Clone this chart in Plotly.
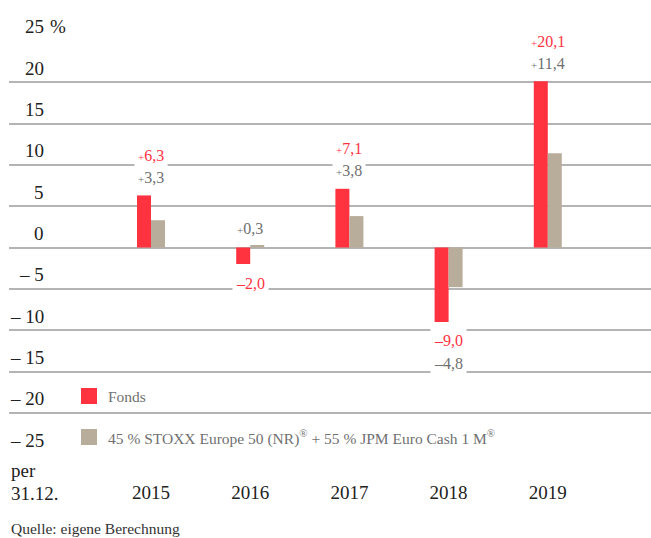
import plotly.graph_objects as go

# ---------------- data ----------------
years = ["2015", "2016", "2017", "2018", "2019"]
fonds = [6.3, -2.0, 7.1, -9.0, 20.1]
bench = [3.3, 0.3, 3.8, -4.8, 11.4]
y_ticks = [25, 20, 15, 10, 5, 0, -5, -10, -15, -20, -25]
y_tick_labels = ["25", "20", "15", "10", "5", "0", "– 5", "– 10", "– 15", "– 20", "– 25"]
y_unit = "%"
series_names = ["Fonds", "45 % STOXX Europe 50 (NR)<sup>®</sup> + 55 % JPM Euro Cash 1 M<sup>®</sup>"]
source_text = "Quelle: eigene Berechnung"
x_caption = ["per", "31.12."]

# ---------------- style ----------------
RED = "#FF333F"
BEIGE = "#B8AD9B"
GRID = "#B4B4B4"
DARK = "#222222"
GREY_TXT = "#707070"
FONT = "Liberation Serif"

W, H = 651, 538
L, R, T, B = 9, 0, 40, 83
PW, PH = W - L - R, H - T - B

def px_x(p):
    return (p - L) / PW

def px_y(p):
    return (H - B - p) / PH

first_px, step_px = 151, 99.2
x0 = -(first_px - L) / step_px
x1 = x0 + PW / step_px
bw = 14 / step_px

fig = go.Figure()
fig.add_bar(x=list(range(len(years))), y=fonds, width=bw, offset=-bw,
            marker=dict(color=RED, line=dict(width=0)), name=series_names[0], showlegend=False)
fig.add_bar(x=list(range(len(years))), y=bench, width=bw, offset=0,
            marker=dict(color=BEIGE, line=dict(width=0)), name=series_names[1], showlegend=False)

def fmt(v):
    s = f"{abs(v):.1f}".replace(".", ",")
    if v >= 0:
        return "<span style='font-size:11px'>+</span>" + s
    return "–" + s

annotations = []
for i, (f, b) in enumerate(zip(fonds, bench)):
    items = []
    if f >= 0 and b >= 0:
        top = max(f, b)
        items = [(b, GREY_TXT, top, 18), (f, RED, top, 40)]
    elif f < 0 and b < 0:
        bot = min(f, b)
        items = [(f, RED, bot, -19), (b, GREY_TXT, bot, -42)]
    else:
        for v, c in ((f, RED), (b, GREY_TXT)):
            items.append((v, c, v, 17 if v >= 0 else -19))
    for v, c, anchor, sh in items:
        annotations.append(dict(x=i, y=anchor, xref="x", yref="y", yshift=sh,
                                text=fmt(v), showarrow=False, bgcolor="white",
                                borderpad=3, font=dict(family=FONT, size=16, color=c),
                                xanchor="center", yanchor="middle"))

# y tick labels (sitting above their gridlines)
for v, lab in zip(y_ticks, y_tick_labels):
    annotations.append(dict(x=px_x(46), y=v, xref="paper", yref="y", yshift=14,
                            text=lab, showarrow=False, xanchor="right", yanchor="middle",
                            font=dict(family=FONT, size=19, color=DARK)))
annotations.append(dict(x=px_x(48), y=y_ticks[0], xref="paper", yref="y", yshift=14,
                        text=y_unit, showarrow=False, xanchor="left", yanchor="middle",
                        font=dict(family=FONT, size=19, color=DARK)))

# x caption
annotations.append(dict(x=0, y=px_y(470), xref="paper", yref="paper", text=x_caption[0],
                        showarrow=False, xanchor="left", yanchor="middle",
                        font=dict(family=FONT, size=19, color=DARK)))
annotations.append(dict(x=0, y=px_y(493), xref="paper", yref="paper", text=x_caption[1],
                        showarrow=False, xanchor="left", yanchor="middle",
                        font=dict(family=FONT, size=19, color=DARK)))
annotations.append(dict(x=0, y=px_y(528), xref="paper", yref="paper", text=source_text,
                        showarrow=False, xanchor="left", yanchor="middle",
                        font=dict(family=FONT, size=15.5, color="#333333")))

# manual legend
shapes = []
for k, (name, col, yc) in enumerate(zip(series_names, [RED, BEIGE], [396, 437])):
    shapes.append(dict(type="rect", xref="paper", yref="paper",
                       x0=px_x(81), x1=px_x(97), y0=px_y(yc + 8), y1=px_y(yc - 8),
                       fillcolor=col, line=dict(width=0)))
    annotations.append(dict(x=px_x(106), y=px_y(yc), xref="paper", yref="paper",
                            text=name, showarrow=False, xanchor="left", yanchor="middle",
                            font=dict(family=FONT, size=15.5, color=GREY_TXT)))

fig.update_layout(
    width=W, height=H, margin=dict(l=L, r=R, t=T, b=B, pad=0),
    paper_bgcolor="white", plot_bgcolor="white", barmode="overlay",
    showlegend=False, annotations=annotations, shapes=shapes,
    font=dict(family=FONT, size=19, color=DARK),
    xaxis=dict(range=[x0, x1], tickvals=list(range(len(years))), ticktext=years,
               showgrid=False, zeroline=False, showline=False, ticks="",
               tickfont=dict(family=FONT, size=19, color=DARK), ticklabelstandoff=24,
               fixedrange=True),
    yaxis=dict(range=[-25.1, 25.1], tickvals=y_ticks, showticklabels=False,
               showgrid=True, gridcolor=GRID, gridwidth=1.5,
               zeroline=True, zerolinecolor=GRID, zerolinewidth=1.5,
               showline=False, ticks="", fixedrange=True),
)

fig.write_html("out.html")
